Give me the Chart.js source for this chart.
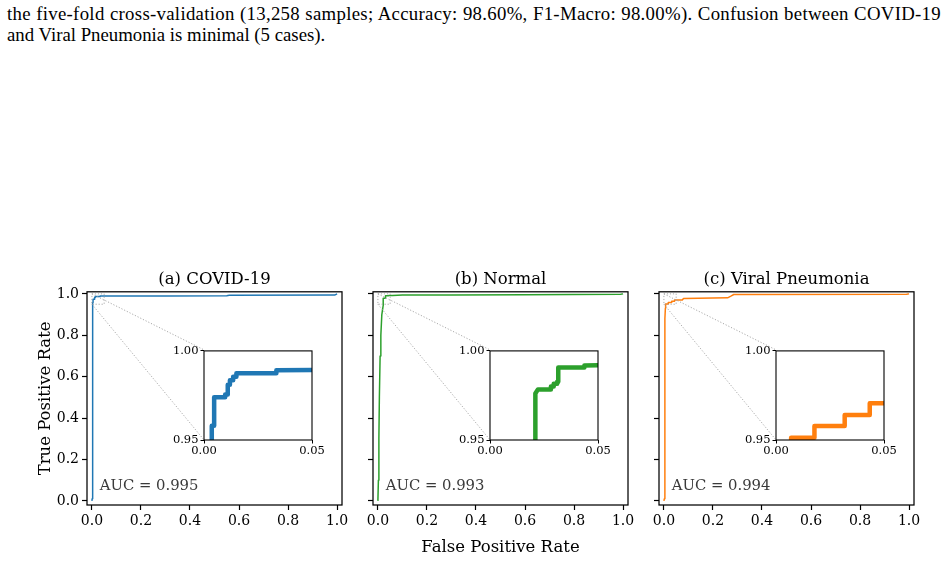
<!DOCTYPE html>
<html><head><meta charset="utf-8">
<script src="https://cdn.jsdelivr.net/npm/chart.js@4.4.0/dist/chart.umd.min.js"></script>
<style>
html,body{margin:0;padding:0;background:#fff;}
#fig{position:relative;width:948px;height:561px;overflow:hidden;background:#fff;}
canvas{position:absolute;}
.cap{position:absolute;left:7px;width:934px;font-family:"Liberation Serif","Times New Roman",serif;font-size:18.8px;line-height:21px;white-space:nowrap;color:#000;}
</style></head><body>
<div id="fig">
<div class="cap" style="top:3px;letter-spacing:0.3px;text-align:justify;text-align-last:justify;">the five-fold cross-validation (13,258 samples; Accuracy: 98.60%, F1-Macro: 98.00%). Confusion between COVID-19</div>
<div class="cap" style="top:24px;">and Viral Pneumonia is minimal (5 cases).</div>
</div>
<script>
// ---------- data ----------
const categories = ['(a) COVID-19', '(b) Normal', '(c) Viral Pneumonia'];
const aucValues = [0.995, 0.993, 0.994];
const colors = ['#1f77b4', '#2ca02c', '#ff7f0e'];

const covidFpr = [0, 0.001, 0.002, 0.003, 0.0036, 0.0036, 0.0047, 0.0047, 0.0098, 0.0098, 0.011, 0.011, 0.012, 0.012, 0.0135, 0.0135, 0.015, 0.015, 0.0335, 0.0335, 0.1, 0.3, 0.55, 0.56, 0.99, 1.0];
const covidTpr = [0, 0.01, 0.73, 0.74, 0.90, 0.958, 0.958, 0.974, 0.974, 0.9755, 0.9755, 0.981, 0.981, 0.9835, 0.9835, 0.9855, 0.9855, 0.9875, 0.9875, 0.9892, 0.9895, 0.990, 0.991, 0.993, 0.994, 1.0];

const normalFpr = [0, 0.002, 0.004, 0.006, 0.009, 0.012, 0.016, 0.021, 0.021, 0.0222, 0.0282, 0.0282, 0.0295, 0.0295, 0.0311, 0.0311, 0.0316, 0.0316, 0.0437, 0.0437, 0.06, 0.1, 0.3, 0.6, 0.99, 1.0];
const normalTpr = [0, 0.1, 0.3, 0.5, 0.7, 0.8, 0.9, 0.94, 0.9761, 0.9784, 0.9784, 0.980, 0.980, 0.9815, 0.9815, 0.9827, 0.9827, 0.9907, 0.9907, 0.9918, 0.992, 0.994, 0.995, 0.996, 0.998, 1.0];

const viralFpr = [0, 0.002, 0.004, 0.004, 0.006, 0.007, 0.007, 0.0178, 0.0178, 0.0318, 0.0318, 0.0434, 0.0434, 0.075, 0.08, 0.26, 0.275, 0.285, 0.99, 1.0];
const viralTpr = [0, 0.01, 0.5, 0.88, 0.93, 0.945, 0.9513, 0.9513, 0.9578, 0.9578, 0.964, 0.964, 0.9706, 0.9706, 0.978, 0.981, 0.990, 0.997, 0.998, 1.0];

const xTicks = [0, 0.2, 0.4, 0.6, 0.8, 1.0];
const yTicks = [0, 0.2, 0.4, 0.6, 0.8, 1.0];
const insetXTicks = [0, 0.05];
const insetYTicks = [0.95, 1.0];
const insetXRange = [0, 0.05];
const insetYRange = [0.95, 1.0];

const fprs = [covidFpr, normalFpr, viralFpr];
const tprs = [covidTpr, normalTpr, viralTpr];
const series = fprs.map((f, i) => f.map((x, k) => ({x: x, y: tprs[i][k]})));

// ---------- layout ----------
const FIG = document.getElementById('fig');
const panelLefts = [87, 373, 659];
const PANEL_TOP = 266, AXW = 255, YAXW = 60, XAXH = 56, PADR = 12, CANVAS_H = 295;
const INSET = {x: 0.459, y: 0.305, w: 0.4235, h: 0.4225};
const IYAXW = 34, IXAXH = 22, IPADT = 8, IPADR = 16;
const SERIF = '"DejaVu Serif", serif';

function makeCanvas(left, top, w, h) {
  const c = document.createElement('canvas');
  c.width = w; c.height = h;
  c.style.left = left + 'px'; c.style.top = top + 'px';
  c.style.width = w + 'px'; c.style.height = h + 'px';
  FIG.appendChild(c);
  return c;
}

const framePlugin = {
  id: 'frame',
  afterDatasetsDraw(chart, args, opts) {
    const {ctx, chartArea: a} = chart;
    ctx.save();
    ctx.strokeStyle = '#000';
    ctx.lineWidth = opts.width || 1.2;
    ctx.strokeRect(a.left, a.top, a.right - a.left, a.bottom - a.top);
    ctx.restore();
  }
};
const whiteBgPlugin = {
  id: 'whiteBg',
  beforeDatasetsDraw(chart) {
    const {ctx, chartArea: a} = chart;
    ctx.save(); ctx.fillStyle = '#fff';
    ctx.fillRect(a.left, a.top, a.right - a.left, a.bottom - a.top);
    ctx.restore();
  }
};
const aucPlugin = {
  id: 'auc',
  afterDatasetsDraw(chart, args, opts) {
    const {ctx, chartArea: a} = chart;
    ctx.save();
    ctx.fillStyle = '#3a3a3a';
    ctx.font = '14.8px ' + SERIF;
    ctx.textBaseline = 'alphabetic';
    ctx.textAlign = 'left';
    ctx.fillText(opts.text, a.left + 0.05 * (a.right - a.left), a.bottom - 0.07 * (a.bottom - a.top));
    ctx.restore();
  }
};
function insetBox(chart) {
  const a = chart.chartArea, w = a.right - a.left, h = a.bottom - a.top;
  return {left: a.left + INSET.x * w, right: a.left + (INSET.x + INSET.w) * w,
          top: a.bottom - (INSET.y + INSET.h) * h, bottom: a.bottom - INSET.y * h};
}
const zoomMarkPlugin = {
  id: 'zoomMark',
  afterDatasetsDraw(chart) {
    const {ctx} = chart;
    const xs = chart.scales.x, ys = chart.scales.y;
    const rx0 = xs.getPixelForValue(insetXRange[0]), rx1 = xs.getPixelForValue(insetXRange[1]);
    const ry0 = ys.getPixelForValue(insetYRange[1]), ry1 = ys.getPixelForValue(insetYRange[0]);
    const b = insetBox(chart);
    ctx.save();
    ctx.strokeStyle = '#a0a0a0';
    ctx.lineWidth = 0.9;
    ctx.setLineDash([1.2, 1.8]);
    ctx.strokeRect(rx0, ry0, rx1 - rx0, ry1 - ry0);
    ctx.beginPath();
    ctx.moveTo(rx0, ry0); ctx.lineTo(b.left, b.top);
    ctx.moveTo(rx0, ry1); ctx.lineTo(b.left, b.bottom);
    ctx.stroke();
    ctx.restore();
  }
};

function mainChart(i) {
  const left = panelLefts[i] - YAXW;
  const canvas = makeCanvas(left, PANEL_TOP, YAXW + AXW + PADR, CANVAS_H);
  const isFirst = i === 0, isMid = i === 1;
  const chart = new Chart(canvas, {
    type: 'line',
    data: {datasets: [{data: series[i], borderColor: colors[i], borderWidth: 1.5, pointRadius: 0,
      tension: 0, fill: false, borderJoinStyle: 'round'}]},
    options: {
      responsive: false, animation: false, events: [], devicePixelRatio: 1,
      layout: {padding: {left: 0, right: PADR, top: 0, bottom: 0}},
      plugins: {
        legend: {display: false}, tooltip: {enabled: false},
        title: {display: true, fullSize: false, text: categories[i], color: '#000',
          font: {family: SERIF, size: 16.5, weight: 'normal', lineHeight: 1.2}, padding: {top: 4, bottom: 2}},
        frame: {width: 1.25},
        auc: {text: 'AUC = ' + aucValues[i].toFixed(3)}
      },
      scales: {
        x: {type: 'linear', min: -0.02, max: 1.02,
          afterBuildTicks: s => { s.ticks = xTicks.map(v => ({value: v})); },
          afterFit: s => { s.height = XAXH; },
          ticks: {callback: v => Number(v).toFixed(1), color: '#000', font: {family: SERIF, size: 14}, padding: 3, maxRotation: 0, autoSkip: false},
          grid: {display: true, drawOnChartArea: false, drawTicks: true, tickLength: 5, tickColor: '#000', tickWidth: 1.2},
          border: {display: false},
          title: {display: isMid, text: 'False Positive Rate', color: '#000', font: {family: SERIF, size: 16.5, lineHeight: 1.2}, padding: {top: 0, bottom: 3}}
        },
        y: {type: 'linear', min: -0.02, max: 1.01,
          afterBuildTicks: s => { s.ticks = yTicks.map(v => ({value: v})); },
          afterFit: s => { s.width = YAXW; },
          ticks: {callback: v => isFirst ? Number(v).toFixed(1) : '', color: '#000', font: {family: SERIF, size: 14}, padding: 3, autoSkip: false},
          grid: {display: true, drawOnChartArea: false, drawTicks: true, tickLength: 5, tickColor: '#000', tickWidth: 1.2},
          border: {display: false},
          title: {display: isFirst, text: 'True Positive Rate', color: '#000', font: {family: SERIF, size: 16.5, lineHeight: 1.2}, padding: {top: 9, bottom: 0}}
        }
      }
    },
    plugins: [framePlugin, aucPlugin, zoomMarkPlugin]
  });
  return {chart, left, top: PANEL_TOP};
}

function insetChart(i, host) {
  const b = insetBox(host.chart);
  const w = Math.round(b.right - b.left), h = Math.round(b.bottom - b.top);
  const cLeft = Math.round(host.left + b.left) - IYAXW;
  const cTop = Math.round(host.top + b.top) - IPADT;
  const canvas = makeCanvas(cLeft, cTop, IYAXW + w + IPADR, IPADT + h + IXAXH);
  new Chart(canvas, {
    type: 'line',
    data: {datasets: [{data: series[i], borderColor: colors[i], borderWidth: 4.5, pointRadius: 0,
      tension: 0, fill: false, clip: 0, borderJoinStyle: 'round', borderCapStyle: 'butt'}]},
    options: {
      responsive: false, animation: false, events: [], devicePixelRatio: 1,
      layout: {padding: {left: 0, right: IPADR, top: IPADT, bottom: 0}},
      plugins: {legend: {display: false}, tooltip: {enabled: false}, title: {display: false}, frame: {width: 1.1}},
      scales: {
        x: {type: 'linear', min: insetXRange[0], max: insetXRange[1],
          afterBuildTicks: s => { s.ticks = insetXTicks.map(v => ({value: v})); },
          afterFit: s => { s.height = IXAXH; },
          ticks: {callback: v => Number(v).toFixed(2), color: '#000', font: {family: SERIF, size: 11.5}, padding: 1, maxRotation: 0, autoSkip: false},
          grid: {display: true, drawOnChartArea: false, drawTicks: true, tickLength: 3.5, tickColor: '#000', tickWidth: 1},
          border: {display: false}
        },
        y: {type: 'linear', min: insetYRange[0], max: insetYRange[1],
          afterBuildTicks: s => { s.ticks = insetYTicks.map(v => ({value: v})); },
          afterFit: s => { s.width = IYAXW; },
          ticks: {callback: v => Number(v).toFixed(2), color: '#000', font: {family: SERIF, size: 11.5}, padding: 2, autoSkip: false},
          grid: {display: true, drawOnChartArea: false, drawTicks: true, tickLength: 3.5, tickColor: '#000', tickWidth: 1},
          border: {display: false}
        }
      }
    },
    plugins: [whiteBgPlugin, framePlugin]
  });
}

const hosts = [0, 1, 2].map(mainChart);
hosts.forEach((h, i) => insetChart(i, h));
</script>
</body></html>
